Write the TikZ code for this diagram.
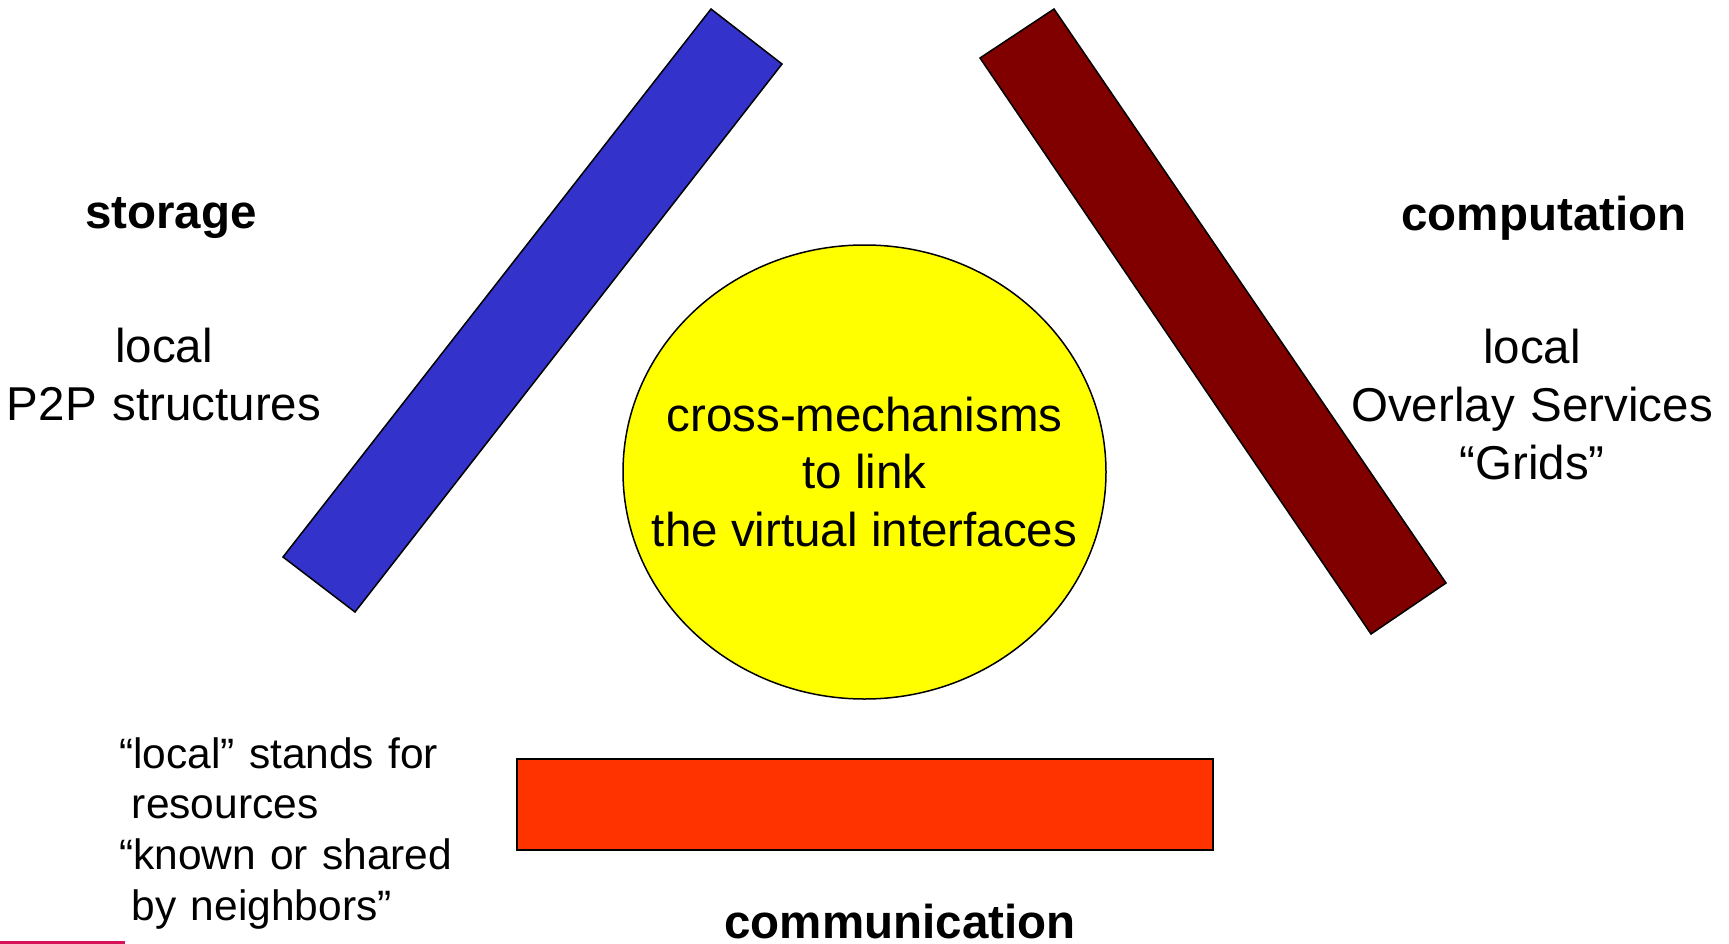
\documentclass[tikz,border=0pt]{standalone}
\usepackage{fontspec}
\setmainfont{Liberation Sans}
\usetikzlibrary{shapes.geometric}
\definecolor{barblue}{RGB}{51,51,204}
\definecolor{barbrown}{RGB}{128,0,0}
\definecolor{barorange}{RGB}{255,51,0}
\definecolor{hubyellow}{RGB}{255,255,0}
\definecolor{accentpink}{RGB}{214,18,90}
\tikzset{
  bar/.style={draw=black, line width=1.5pt, line join=miter},
  bigtxt/.style={inner sep=0pt, font=\fontsize{47.5}{58}\selectfont},
  headtxt/.style={bigtxt, font=\fontsize{47.5}{58}\selectfont\bfseries},
  notetxt/.style={inner sep=0pt, font=\fontsize{42.5}{50.7}\selectfont}
}
\begin{document}
\begin{tikzpicture}[x=1pt,y=-1pt]
\useasboundingbox (0,0) rectangle (1729,944);
% bars
\draw[bar, fill=barblue] (711,9) -- (782,64) -- (355,612) -- (283,557) -- cycle;
\draw[bar, fill=barbrown] (1054,9) -- (1446,583) -- (1371,634) -- (980,58) -- cycle;
\draw[bar, fill=barorange] (517,759) rectangle (1213,850);
% hub
\node[ellipse, draw=black, line width=1.5pt, fill=hubyellow, minimum width=483pt, minimum height=454pt, inner sep=0pt] (hub) at (864.5,472) {};
\node[inner sep=0pt, align=center, font=\fontsize{47.5}{57.3}\selectfont] (hubtext) at (hub.center) {cross-mechanisms\\to link\\the virtual interfaces};
% labels
\node[headtxt, anchor=base] (storage) at (171,229) {storage};
\node[bigtxt, anchor=base, text width=340pt, align=center] (storagedesc) at (164,362) {local\\P2P structures};
\node[headtxt, anchor=base] (computation) at (1544,230) {computation};
\node[bigtxt, anchor=base, text width=380pt, align=center] (compdesc) at (1532,363) {local\\Overlay Services\\“Grids”};
\node[headtxt, anchor=base] (communication) at (900,938) {communication};
\node[notetxt, anchor=base west, text width=430pt, align=left] (note) at (119,768) {“local” stands for\\\hspace*{0.3em}resources\\“known or shared\\\hspace*{0.3em}by neighbors”};
% accent line
\coordinate (accA) at (0,942);
\coordinate (accB) at (125,942);
\draw[accentpink, line width=3pt] (accA) -- (accB);
\end{tikzpicture}
\end{document}
